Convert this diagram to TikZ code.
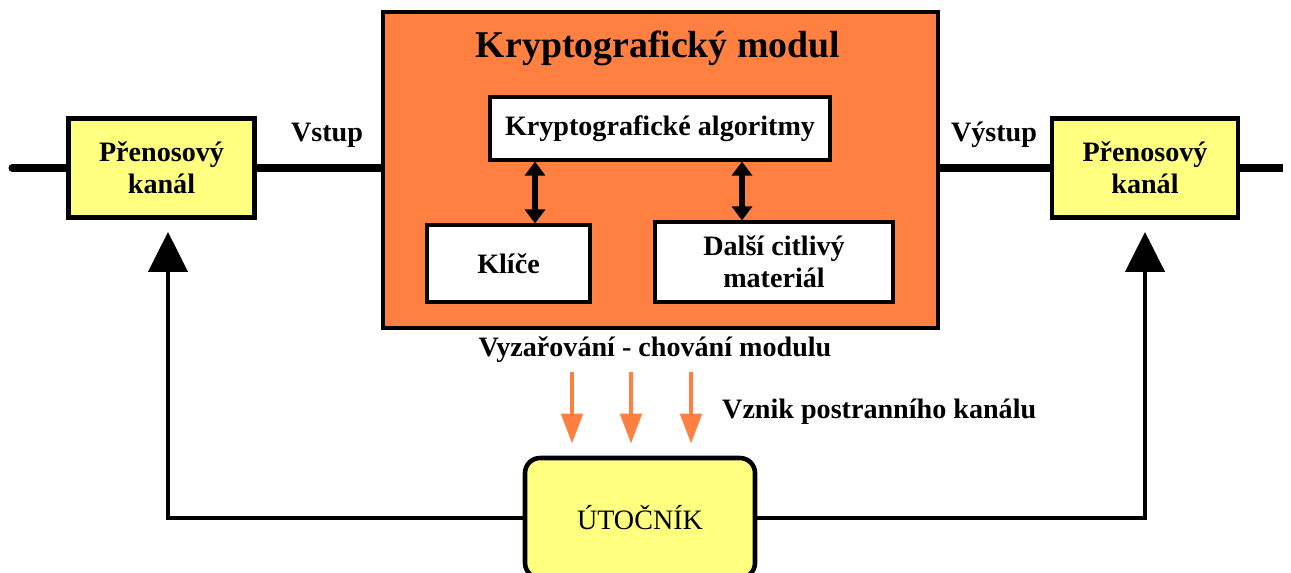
\documentclass[tikz,border=0pt]{standalone}
\usepackage{xcolor}
\usepackage{fontspec}
\setmainfont{Liberation Serif}
\usepackage{tikz}
\usetikzlibrary{shapes,arrows.meta,positioning,calc}
\definecolor{modul}{RGB}{255,128,64}
\definecolor{kanal}{RGB}{255,255,128}

\begin{document}
\begin{tikzpicture}[
    x=0.02cm, y=-0.02cm,
    every node/.style={font=\fontsize{16}{18}\selectfont\bfseries},
    channel/.style={rectangle, draw, line width=2.8pt, fill=kanal, minimum width=3.72cm, minimum height=1.98cm, align=center, inner sep=0pt},
    inner/.style={rectangle, draw, line width=1.8pt, fill=white, align=center, inner sep=0pt},
    wire/.style={line width=4pt},
    back/.style={line width=2.6pt, -{Triangle[width=0.78cm, length=0.8cm]}, shorten >=0.24cm},
    dbl/.style={line width=3.2pt, {Triangle[width=0.4cm, length=0.28cm]}-{Triangle[width=0.4cm, length=0.28cm]}},
    leak/.style={line width=2.8pt, draw=modul, -{Triangle[width=0.42cm, length=0.6cm]}}
]
    \useasboundingbox (0,0) rectangle (1291,572);

    \node[rectangle, draw, line width=2.4pt, fill=modul, minimum width=11.1cm, minimum height=6.32cm] (mod) at (660.5,170) {};
    \node[font=\fontsize{21.5}{24}\selectfont\bfseries] (title) at (658,48) {Kryptografický modul};
    \node[inner, minimum width=6.8cm, minimum height=1.26cm] (alg) at (660,128.5) {Kryptografické algoritmy};
    \node[inner, minimum width=3.26cm, minimum height=1.54cm] (klic) at (508.5,263.5) {Klíče};
    \node[inner, minimum width=4.76cm, minimum height=1.6cm] (dalsi) at (774,262) {Další citlivý\\materiál};

    \node[channel] (lbox) at (161.5,168) {Přenosový\\kanál};
    \node[channel] (rbox) at (1145,168) {Přenosový\\kanál};
    \node (vstup) at (327,135) {Vstup};
    \node (vystup) at (994,135) {Výstup};

    \node (vyz) at (655,350) {Vyzařování - chování modulu};
    \node[anchor=west] (vznik) at (716,412) {Vznik postranního kanálu};
    \node[rectangle, rounded corners=0.3cm, draw, line width=2.6pt, fill=kanal, minimum width=4.6cm, minimum height=2.4cm, font=\fontsize{16}{18}\selectfont] (att) at (640,518) {ÚTOČNÍK};

    \coordinate (lend) at (12,168);
    \coordinate (rend) at (1283,168);
    \coordinate (k1) at (535,0);
    \coordinate (k2) at (742,0);
    \coordinate (lup) at (168,0);

    \draw[wire, line cap=round] (lend) -- (lbox.west);
    \draw[wire] (lbox.east) -- (lbox.east -| mod.west);
    \draw[wire] (rbox.west -| mod.east) -- (rbox.west);
    \draw[wire] (rbox.east) -- (rend);

    \draw[dbl] (alg.south -| k1) -- (klic.north -| k1);
    \draw[dbl] (alg.south -| k2) -- (dalsi.north -| k2);

    \foreach \x in {572,631,691}
        \draw[leak] (vyz.south -| \x,0) ++(0,3) -- ($(att.north -| \x,0) + (0,-12)$);

    \draw[back] (att.west) -| (lbox.south -| lup);
    \draw[back] (att.east) -| (rbox.south);
\end{tikzpicture}
\end{document}
